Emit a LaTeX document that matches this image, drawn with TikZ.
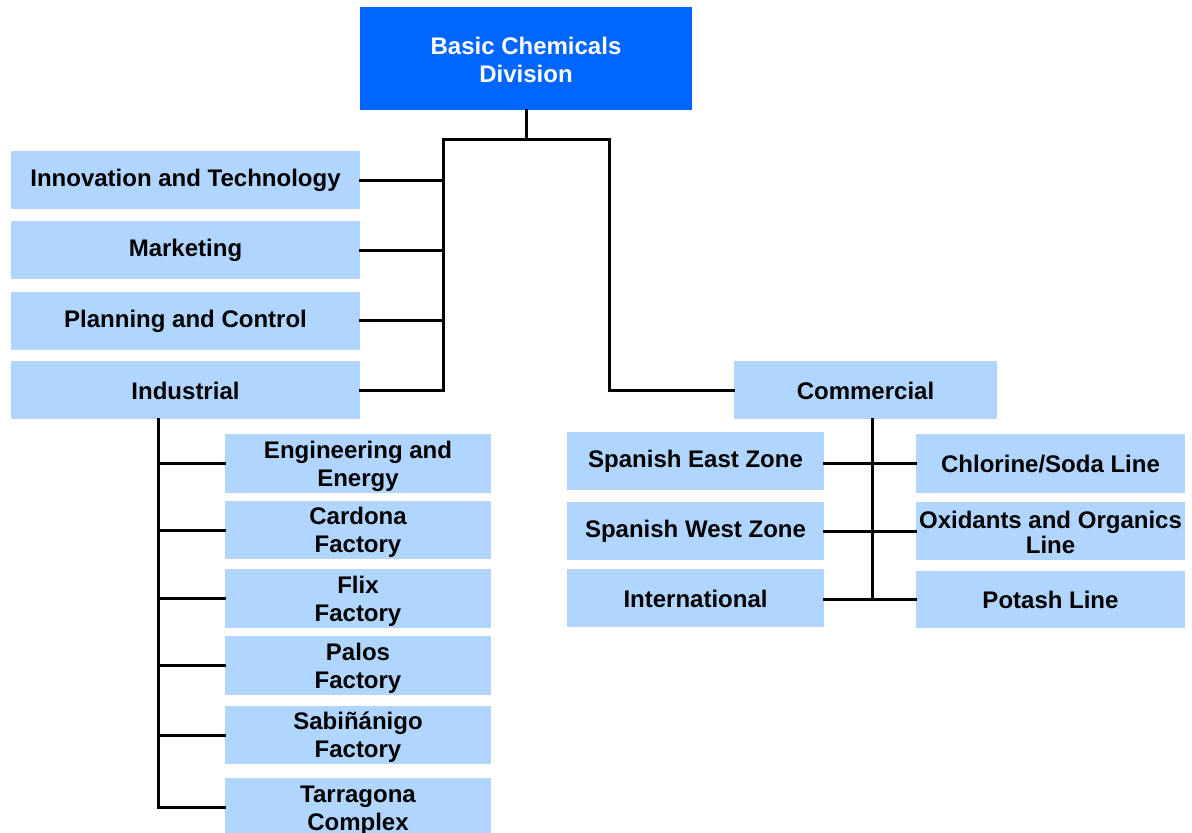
\documentclass[tikz,border=0pt]{standalone}
\usepackage{fontspec}
\setmainfont{Liberation Sans}
\definecolor{lb}{RGB}{176,214,255}
\definecolor{db}{RGB}{0,102,255}
\tikzset{
  boxbase/.style={fill=lb, inner sep=0pt},
  txt/.style={inner sep=0pt, align=center, text=black,
    font=\bfseries\fontsize{24}{28}\selectfont},
  box/.style={boxbase, label={[txt, yshift=-0.5pt]center:#1}},
  boxii/.style={boxbase, label={[txt, yshift=-2.5pt]center:#1}},
  wide/.style={minimum width=349pt, minimum height=58pt},
  sub/.style={minimum width=266pt, minimum height=59pt},
  zone/.style={minimum width=257pt, minimum height=58pt},
  pline/.style={minimum width=269pt, minimum height=58pt},
  conn/.style={draw=black, line width=3pt, line cap=rect}
}
\begin{document}
\begin{tikzpicture}[x=1pt,y=-1pt]
\useasboundingbox (0,0) rectangle (1192,833);
% top
\node[fill=db, inner sep=0pt, minimum width=332pt, minimum height=103pt] (top) at (526,58.5) {};
\node[txt, text=white] (topt) at ([yshift=-1.5pt]top.center) {Basic Chemicals\\Division};
% left column
\node[box={Innovation and Technology}, wide] (inn) at (185.5,180) {};
\node[box={Marketing}, wide] (mkt) at (185.5,250) {};
\node[box={Planning and Control}, wide] (pln) at (185.5,321) {};
\node[box={Industrial}, wide] (ind) at (185.5,390) {};
% commercial
\node[box={Commercial}, minimum width=263pt, minimum height=58pt] (com) at (865.5,390) {};
% zones
\node[box={Spanish East Zone}, zone] (se) at (695.5,461) {};
\node[box={Spanish West Zone}, zone] (sw) at (695.5,531) {};
\node[box={International}, zone] (intl) at (695.5,598) {};
% lines
\node[box={Chlorine/Soda Line}, pline, minimum height=59pt] (chl) at (1050.5,463.5) {};
\node[boxbase, pline] (oxi) at (1050.5,531) {};
\node[txt, font=\bfseries\fontsize{24}{25}\selectfont] (oxit) at ([yshift=-1pt]oxi.center) {Oxidants and Organics\\Line};
\node[box={Potash Line}, pline, minimum height=57pt] (pot) at (1050.5,599.5) {};
% industrial sub
\node[boxii={Engineering and\\Energy}, sub] (eng) at (358,463.5) {};
\node[boxii={Cardona\\Factory}, sub, minimum height=58pt] (car) at (358,530) {};
\node[boxii={Flix\\Factory}, sub] (flx) at (358,598.5) {};
\node[boxii={Palos\\Factory}, sub] (pal) at (358,665.5) {};
\node[boxii={Sabiñánigo\\Factory}, sub, minimum height=58pt] (sab) at (358,735) {};
\node[boxii={Tarragona\\Complex}, sub, minimum height=60pt] (tar) at (358,808) {};
% coordinates
\coordinate (tj) at (526,139);
\coordinate (ltop) at (443,139);
\coordinate (rtop) at (609,139);
\coordinate (l1) at (443,180);
\coordinate (l2) at (443,250);
\coordinate (l3) at (443,320);
\coordinate (l4) at (443,390);
\coordinate (r4) at (609,390);
\coordinate (cb) at (872,419);
\coordinate (c1) at (872,463);
\coordinate (c2) at (872,531);
\coordinate (c3) at (872,599);
\coordinate (ib) at (158,419);
\coordinate (i1) at (158,463);
\coordinate (i2) at (158,530);
\coordinate (i3) at (158,598);
\coordinate (i4) at (158,665);
\coordinate (i5) at (158,735);
\coordinate (i6) at (158,807);
% connectors
\draw[conn] (top.south) -- (tj);
\draw[conn] (ltop) -- (rtop);
\draw[conn] (ltop) -- (l4);
\draw[conn] (inn.east |- l1) -- (l1);
\draw[conn] (mkt.east |- l2) -- (l2);
\draw[conn] (pln.east |- l3) -- (l3);
\draw[conn] (ind.east |- l4) -- (l4);
\draw[conn] (rtop) -- (r4) -- (com.west |- r4);
\draw[conn] (cb) -- (c3);
\draw[conn] (se.east |- c1) -- (chl.west |- c1);
\draw[conn] (sw.east |- c2) -- (oxi.west |- c2);
\draw[conn] (intl.east |- c3) -- (pot.west |- c3);
\draw[conn] (ib) -- (i6);
\draw[conn] (i1) -- (eng.west |- i1);
\draw[conn] (i2) -- (car.west |- i2);
\draw[conn] (i3) -- (flx.west |- i3);
\draw[conn] (i4) -- (pal.west |- i4);
\draw[conn] (i5) -- (sab.west |- i5);
\draw[conn] (i6) -- (tar.west |- i6);
\end{tikzpicture}
\end{document}
